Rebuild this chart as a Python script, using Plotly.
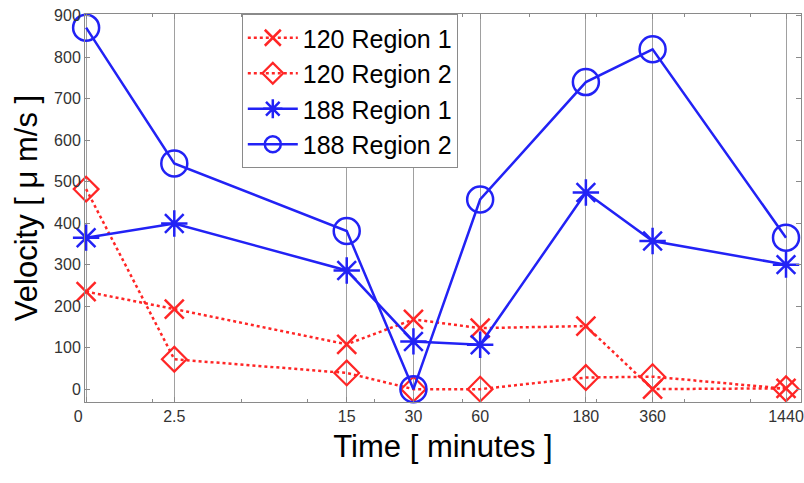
import plotly.graph_objects as go

# Data
times = [0, 2.5, 15, 30, 60, 180, 360, 1440]
tick_labels = ["0", "2.5", "15", "30", "60", "180", "360", "1440"]
r120_region1 = [235, 193, 108, 168, 147, 152, 0, 2]
r120_region2 = [482, 72, 39, 0, 0, 28, 30, 1]
r188_region1 = [365, 399, 286, 115, 107, 474, 357, 300]
r188_region2 = [871, 544, 381, 0, 457, 740, 819, 365]
series_names = ["120 Region 1", "120 Region 2", "188 Region 1", "188 Region 2"]

# log axis cannot show 0: time 0 is drawn at 1 (labelled "0")
x_pos = [t if t > 0 else 1 for t in times]
tick_pos = x_pos

RED = "#ff2626"
BLUE = "#2222f5"

styles = [
    dict(color=RED, dash="dot", symbol="x-thin-open", size=19, mw=2.5),
    dict(color=RED, dash="dot", symbol="diamond-open", size=19, mw=2.2),
    dict(color=BLUE, dash="solid", symbol="asterisk-open", size=22, mw=2.5),
    dict(color=BLUE, dash="solid", symbol="circle-open", size=26, mw=2.5),
]
values = [r120_region1, r120_region2, r188_region1, r188_region2]

fig = go.Figure()
for i, (name, vals, st) in enumerate(zip(series_names, values, styles)):
    fig.add_trace(go.Scatter(
        x=x_pos, y=vals, name=name, mode="lines+markers",
        legendgroup=f"g{i}",
        line=dict(color=st["color"], width=2.5, dash=st["dash"]),
        marker=dict(symbol=st["symbol"], size=st["size"], color=st["color"],
                    line=dict(color=st["color"], width=st["mw"])),
        cliponaxis=False,
    ))

axis_common = dict(
    showline=True, linecolor="#8a8a8a", linewidth=1, mirror="ticks",
    ticks="inside", ticklen=5, tickcolor="#8a8a8a",
    tickfont=dict(family="Liberation Sans, Arial", size=16, color="#333333"),
    zeroline=False, automargin=False,
)

fig.update_layout(
    width=804, height=483,
    margin=dict(l=85, r=3, t=14, b=81),
    paper_bgcolor="white", plot_bgcolor="white",
    font=dict(family="Liberation Sans, Arial", color="black"),
    showlegend=True,
    legend=dict(
        x=0.219, y=1.0, xanchor="left", yanchor="top",
        bgcolor="white", bordercolor="#8a8a8a", borderwidth=1,
        font=dict(size=25, color="black"),
        tracegroupgap=0, traceorder="grouped", itemwidth=50,
    ),
    xaxis=dict(
        type="log", range=[-0.005, 3.226],
        tickvals=tick_pos, ticktext=["0\u2002\u2002"] + tick_labels[1:],
        showgrid=True, gridcolor="#a0a0a0", gridwidth=1,
        title=dict(text="Time [ minutes ]", font=dict(size=31, color="black"), standoff=11),
        minor=dict(ticks="inside", ticklen=3, tickcolor="#8a8a8a", dtick="D2", showgrid=False),
        **axis_common,
    ),
    yaxis=dict(
        range=[-31, 904], tickvals=list(range(0, 1000, 100)),
        showgrid=False,
        title=dict(text="Velocity [ \u03bc m/s ]", font=dict(size=31, color="black"), standoff=7),
        **axis_common,
    ),
)

fig.write_html(
    "out.html",
    config={"displayModeBar": False},
    post_script="document.body.style.margin='0';document.body.style.overflow='hidden';",
)
